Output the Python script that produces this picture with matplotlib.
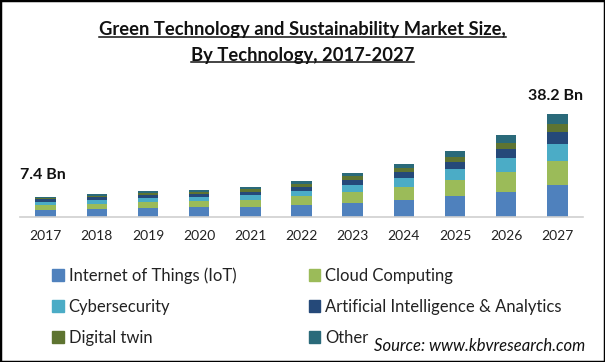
import matplotlib
matplotlib.use("Agg")
import matplotlib.pyplot as plt
from matplotlib.patches import Rectangle, Patch
from matplotlib.lines import Line2D
import numpy as np

# ---------------------------------------------------------------------------
# Data (USD Bn)
# ---------------------------------------------------------------------------
years = ["2017", "2018", "2019", "2020", "2021", "2022",
         "2023", "2024", "2025", "2026", "2027"]

iot    = [2.7, 3.1, 3.5, 3.6, 3.8, 4.4, 5.2, 6.3, 7.8, 9.3, 11.9]
cloud  = [1.7, 1.9, 2.1, 2.3, 2.5, 3.2, 4.0, 4.8, 5.9, 7.4, 8.9]
cyber  = [1.2, 1.3, 1.6, 1.6, 1.8, 2.2, 2.6, 3.3, 4.1, 5.2, 6.3]
ai     = [0.9, 1.0, 1.0, 1.0, 1.1, 1.3, 1.9, 2.2, 2.6, 3.3, 4.4]
twin   = [0.5, 0.6, 0.7, 0.7, 1.0, 1.2, 1.4, 1.5, 1.8, 2.2, 3.0]
other  = [0.4, 0.6, 0.7, 0.8, 0.9, 1.0, 1.2, 1.5, 2.2, 3.0, 3.7]

series_names = ["Internet of Things (IoT)", "Cloud Computing", "Cybersecurity",
                "Artificial Intelligence & Analytics", "Digital twin", "Other"]
series_vals = [iot, cloud, cyber, ai, twin, other]
colors = ["#4F81BD", "#9BBB59", "#4BACC6", "#254979", "#5E7431", "#2A6A7A"]

first_label = "7.4 Bn"
last_label = "38.2 Bn"

plt.rcParams["font.family"] = ["Lato", "DejaVu Sans"]

# ---------------------------------------------------------------------------
# Figure
# ---------------------------------------------------------------------------
W, H = 605, 362
fig = plt.figure(figsize=(W / 100, H / 100), dpi=100)

# axes: x from px 20 to 583, baseline at px 217, top at px 100
ax = fig.add_axes([20 / W, 1 - 217 / H, 563 / W, 117 / H])

x = np.arange(len(years))
bottom = np.zeros(len(years))
for vals, col in zip(series_vals, colors):
    ax.bar(x, vals, width=0.4, bottom=bottom, color=col, linewidth=0)
    bottom += np.array(vals)

ax.set_xlim(-0.5, len(years) - 0.5)
ax.set_ylim(0, 117 / 2.7)
ax.set_yticks([])
ax.set_xticks(x)
ax.set_xticklabels(years, fontsize=10, color="#222222")
ax.tick_params(axis="x", length=0, pad=9)
for s in ["top", "right", "left"]:
    ax.spines[s].set_visible(False)
ax.spines["bottom"].set_color("#d0d0d0")
ax.spines["bottom"].set_linewidth(1.2)

# end labels
ax.annotate(first_label, xy=(-0.5, bottom[0]), xytext=(0, 11),
            textcoords="offset points", ha="left", va="bottom",
            fontsize=11.5, fontweight="bold", color="#111111")
ax.annotate(last_label, xy=(len(years) - 0.5, bottom[-1]), xytext=(0, 8),
            textcoords="offset points", ha="right", va="bottom",
            fontsize=11.5, fontweight="bold", color="#111111")

# title (bold, underlined)
t1 = fig.text(0.5, 1 - 30 / H, "Green Technology and Sustainability Market Size,",
              ha="center", va="center", fontsize=13.2, fontweight="bold", color="#111111")
t2 = fig.text(0.5, 1 - 55 / H, "By Technology, 2017-2027",
              ha="center", va="center", fontsize=13.2, fontweight="bold", color="#111111")

# legend (row-wise order like the reference)
handles = [Patch(color=c) for c in colors]
order = [0, 2, 4, 1, 3, 5]
fig.legend([handles[i] for i in order], [series_names[i] for i in order],
           ncol=2, loc="upper left", bbox_to_anchor=(37 / W, 1 - 252 / H),
           frameon=False, fontsize=12, handlelength=0.7, handleheight=0.7,
           handletextpad=0.3, columnspacing=4.35, labelspacing=0.9,
           labelcolor="#222222")

fig.text(585 / W, 1 - 346 / H, "Source: www.kbvresearch.com", ha="right", va="center",
         fontsize=12, style="italic", color="#111111")

# border
fig.patches.append(Rectangle((0, 0), 1, 1, transform=fig.transFigure,
                             fill=False, edgecolor="black", linewidth=2.5))

# underline the title lines
fig.canvas.draw()
r = fig.canvas.get_renderer()
for t in (t1, t2):
    bb = t.get_window_extent(r).transformed(fig.transFigure.inverted())
    yl = bb.y0 + 0.004
    fig.lines.append(Line2D([bb.x0, bb.x1], [yl, yl], transform=fig.transFigure,
                            color="#111111", linewidth=1.1))

fig.savefig("out.png", dpi=100)
